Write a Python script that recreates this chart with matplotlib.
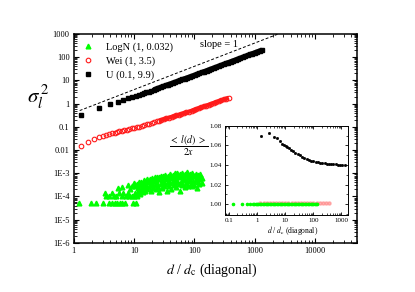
import numpy as np
import matplotlib.pyplot as plt
from matplotlib.ticker import FixedLocator, FuncFormatter, LogLocator, NullFormatter, MultipleLocator

plt.rcParams['font.family'] = 'Liberation Serif'
plt.rcParams['mathtext.fontset'] = 'stix'

# U (0.1, 9.9) - black squares
u_x = [1.33, 2.66, 3.99, 5.32, 6.65, 7.98, 9.31, 10.64, 11.97, 13.3, 14.63, 16,
       17.5, 19.2, 21.1, 23.1, 25.3, 27.8, 30.5, 33.4, 36.6, 40.1, 44, 48.3, 52.9,
       58, 63.6, 69.8, 76.5, 83.9, 92, 100.9, 110.6, 121, 133, 146, 160, 175, 192,
       211, 231, 253, 278, 305, 334, 366, 402, 440, 483, 530, 581, 637, 698, 766,
       840, 921, 1010, 1107, 1214, 1331]
u_y = [0.32, 0.63, 0.92, 1.2, 1.45, 1.7, 1.93, 2.15, 2.38, 2.6, 2.82, 3.03,
       3.30, 3.60, 3.92, 4.27, 4.65, 5.07, 5.52, 6.01, 6.55, 7.13, 7.77, 8.47, 9.22,
       10.05, 10.95, 11.93, 12.99, 14.15, 15.42, 16.8, 18.36, 20.07, 21.94, 23.98,
       26.21, 28.65, 31.31, 34.22, 37.4, 40.88, 44.68, 48.84, 53.38, 58.34, 63.77,
       69.7, 76.18, 83.26, 91.0, 99.47, 108.7, 118.8, 129.9, 142.0, 155.2, 169.6,
       185.4, 202.6]

# Wei (1, 3.5) - red open circles
w_x = [1.29, 1.72, 2.15, 2.58, 3.01, 3.44, 3.87, 4.30, 4.73, 5.16, 5.7, 6.2, 6.9,
       7.6, 8.3, 9.1, 10.0, 11.0, 12.1, 13.3, 14.6, 16.1, 17.7, 19.5, 21.4, 23.6,
       25.9, 28.5, 31.4, 34.5, 38.0, 41.8, 46, 50.5, 55.6, 61, 67, 74, 81, 90, 98,
       108, 119, 131, 144, 159, 175, 192, 211, 232, 255, 281, 309, 340, 370]
w_y = [0.015, 0.022, 0.029, 0.035, 0.040, 0.045, 0.049, 0.052, 0.056, 0.059,
       0.0634, 0.0669, 0.0717, 0.0763, 0.0807, 0.0856, 0.0909, 0.0966, 0.1027,
       0.1108, 0.1192, 0.1283, 0.1380, 0.1485, 0.1598, 0.1719, 0.1850, 0.1991,
       0.2142, 0.2305, 0.2480, 0.2669, 0.2872, 0.3090, 0.3325, 0.3578, 0.3850,
       0.4142, 0.4457, 0.490, 0.534, 0.583, 0.636, 0.693, 0.756, 0.824, 0.899,
       0.980, 1.069, 1.166, 1.272, 1.387, 1.513, 1.650, 1.78]

# LogN (1, 0.032) - green triangles, y in units of 1e-4
g_x = [1.21, 1.9, 2.35, 3.0, 3.83, 4.35, 4.82, 5.26, 5.78, 6.38, 7.0, 9.6, 10.7,
       3.37, 3.83, 4.64, 5.08, 6.38, 7.3, 8.25, 9.1,
       3.25, 4.35, 5.62, 6.63, 8.0,
       5.4, 6.4, 7.8, 8.7, 9.3,
       10.0, 10.5, 11.0, 11.5, 12.0, 12.6, 13.2, 13.8, 14.5, 15.1, 15.8, 16.6,
       17.4, 18.2, 19.1, 20.0, 20.9, 21.9, 22.9, 24.0, 25.1, 26.3, 27.5, 28.8,
       30.2, 31.6, 33.1, 34.7, 36.3, 38.0, 39.8, 41.7, 43.7, 45.7, 47.9, 50.1,
       52.5, 55.0, 57.5, 60.3, 63.1, 66.1, 69.2, 72.4, 75.9, 79.4, 83.2, 87.1,
       91.2, 95.5, 100, 105, 110, 115, 120, 126, 132,
       10.0, 10.5, 11.0, 11.5, 12.0, 12.6, 13.2, 13.8, 14.5, 15.1, 15.8, 16.6,
       17.4, 18.2, 19.1, 20.0, 20.9, 21.9, 22.9, 24.0, 25.1, 26.3, 27.5, 28.8,
       30.2, 31.6, 33.1, 34.7, 36.3, 38.0, 39.8, 41.7, 43.7, 45.7, 47.9, 50.1,
       52.5, 55.0, 57.5, 60.3, 63.1, 66.1, 69.2, 72.4, 75.9, 79.4, 83.2, 87.1,
       91.2, 95.5, 100, 105, 110, 115, 120, 126, 132]
g_y = [0.5, 0.5, 0.5, 0.5, 0.5, 0.5, 0.5, 0.5, 0.5, 0.5, 0.5, 0.5, 0.5,
       1.0, 1.0, 1.0, 1.0, 1.0, 1.0, 1.0, 1.0,
       1.35, 1.35, 1.35, 1.35, 1.35,
       2.3, 2.5, 3.2, 2.0, 2.8,
       3.8, 2.9, 3.4, 2.4, 4.0, 3.1, 4.4, 3.6, 5.0, 3.9, 4.6, 5.5,
       4.1, 5.9, 4.8, 6.3, 5.1, 6.8, 4.5, 7.2, 5.7, 6.6, 8.0, 5.3,
       7.5, 6.1, 8.6, 5.9, 7.9, 6.4, 9.2, 7.0, 8.4, 6.2, 9.8, 7.4,
       10.5, 6.8, 9.0, 7.7, 10.2, 6.5, 9.5, 8.1, 11.0, 7.2, 9.7, 6.9,
       10.0, 8.3, 7.6, 9.4, 6.6, 8.8, 7.3, 9.1, 6.3,
       1.0, 1.4, 1.0, 1.6, 1.9, 1.3, 2.2, 1.6, 2.6, 1.8, 2.9, 2.1,
       2.5, 3.2, 1.7, 3.6, 2.3, 3.0, 2.0, 3.9, 2.6, 1.6, 3.3, 2.4,
       4.2, 2.8, 3.5, 1.7, 4.4, 2.9, 3.7, 2.2, 4.6, 3.1, 4.0, 2.6,
       4.8, 3.4, 1.8, 4.3, 3.0, 4.9, 2.5, 3.8, 4.5, 2.9, 5.2, 3.6,
       2.7, 4.7, 3.2, 5.0, 2.4, 4.1, 3.3, 5.4, 3.9]

# slope = 1 guide line
ref_x = [1.25, 3000]
ref_y = [0.5, 1200]

# inset data
in_u_x = [1.33, 2.66, 3.99, 5.32, 6.65, 7.98, 9.31, 10.6, 12, 13.3, 16, 19, 23, 28,
          33, 40, 48, 58, 70, 84, 100, 120, 145, 175, 210, 250, 300, 360, 430, 520,
          620, 750, 900, 1080, 1300]
in_u_y = [1.070, 1.0725, 1.069, 1.0674, 1.065, 1.062, 1.060, 1.059, 1.058, 1.057,
          1.0555, 1.054, 1.0525, 1.051, 1.0498, 1.0485, 1.0473, 1.0462, 1.0452,
          1.0444, 1.0437, 1.0431, 1.0426, 1.0422, 1.0419, 1.0416, 1.0414, 1.0412,
          1.0410, 1.0408, 1.0407, 1.0405, 1.0404, 1.0403, 1.0402]
in_w_x = [1.3, 1.7, 2.2, 2.8, 3.6, 4.6, 6, 7.7, 10, 13, 17, 22, 28, 36, 46, 60, 77,
          100, 130, 170, 220, 280, 370]
in_w_y = [1.0014, 1.0013, 1.0015, 1.0014, 1.0013, 1.0014, 1.0015, 1.0014, 1.0013,
          1.0014, 1.0014, 1.0013, 1.0014, 1.0015, 1.0014, 1.0013, 1.0014, 1.0014,
          1.0013, 1.0014, 1.0013, 1.0014, 1.0013]
in_g_x = [0.135, 0.29, 0.44, 0.58, 0.7, 0.8, 0.9, 1.0, 1.12, 1.26, 1.41, 1.58, 1.78,
          2.0, 2.24, 2.51, 2.82, 3.16, 3.55, 3.98, 4.47, 5.01, 5.62, 6.31, 7.08,
          7.94, 8.91, 10, 11.2, 12.6, 14.1, 15.8, 17.8, 20, 22.4, 25.1, 28.2, 31.6,
          35.5, 39.8, 44.7, 50.1, 56.2, 63.1, 70.8, 79.4, 89.1, 100, 112, 126, 135]
in_g_y = [1.000, 1.000, 1.000, 1.000, 1.000, 1.000, 1.000, 1.000, 1.000, 1.000,
          1.000, 1.000, 1.000, 1.000, 1.000, 1.000, 1.000, 1.000, 1.000, 1.000,
          1.000, 1.000, 1.000, 1.000, 1.000, 1.000, 1.000, 1.000, 1.000, 1.000,
          1.000, 1.000, 1.000, 1.000, 1.000, 1.000, 1.000, 1.000, 1.000, 1.000,
          1.000, 1.000, 1.000, 1.000, 1.000, 1.000, 1.000, 1.000, 1.000, 1.000,
          1.000]

ylabels = {3: '1000', 2: '100', 1: '10', 0: '1', -1: '0.1', -2: '0.01',
           -3: '1E-3', -4: '1E-4', -5: '1E-5', -6: '1E-6'}

fig = plt.figure(figsize=(4.15, 2.92), dpi=100)
ax = fig.add_axes([0.178, 0.168, 0.682, 0.716])

ax.plot(ref_x, ref_y, color='black', linestyle='--', linewidth=0.7, dashes=(3, 2))
ax.plot(g_x, np.array(g_y) * 1e-4, linestyle='none', marker='^', markersize=3.4,
        color='#00ff00', label='LogN (1, 0.032)')
# dense part of the curves: markers overlap into a solid band
ax.plot(w_x[26:], w_y[26:], color='#ff1a1a', linewidth=3.0, solid_capstyle='butt')
ax.plot(w_x, w_y, linestyle='none', marker='o', markersize=3.3, markerfacecolor='none',
        markeredgecolor='#ff1a1a', markeredgewidth=0.8, label='Wei (1, 3.5)')
ax.plot(u_x[14:], u_y[14:], color='black', linewidth=3.6, solid_capstyle='butt')
ax.plot(u_x, u_y, linestyle='none', marker='s', markersize=2.8, color='black',
        label='U (0.1, 9.9)')

ax.set_xscale('log')
ax.set_yscale('log')
ax.set_xlim(1, 50000)
ax.set_ylim(1e-6, 1000)
ax.xaxis.set_major_locator(FixedLocator([1, 10, 100, 1000, 10000]))
ax.xaxis.set_major_formatter(FuncFormatter(lambda v, p: '%d' % round(v)))
ax.xaxis.set_minor_locator(LogLocator(base=10, subs=np.arange(2, 10)))
ax.xaxis.set_minor_formatter(NullFormatter())
ax.yaxis.set_major_locator(FixedLocator([10.0 ** k for k in range(-6, 4)]))
ax.yaxis.set_major_formatter(FuncFormatter(lambda v, p: ylabels.get(int(round(np.log10(v))), '')))
ax.yaxis.set_minor_locator(LogLocator(base=10, subs=np.arange(2, 10)))
ax.yaxis.set_minor_formatter(NullFormatter())
ax.tick_params(which='both', direction='in', top=True, right=True, labelsize=6, pad=3)
ax.tick_params(which='major', length=3.5, width=0.8)
ax.tick_params(which='minor', length=2, width=0.6)
for s in ax.spines.values():
    s.set_linewidth(1.1)

ax.legend(loc='upper left', frameon=False, fontsize=7.5, handlelength=1.0,
          handletextpad=1.2, labelspacing=0.4, borderaxespad=0.4, borderpad=0.45)
fig.text(0.482, 0.846, 'slope = 1', fontsize=7.5, va='center')
fig.text(0.092, 0.665, r'$\sigma_{l}^{\,2}$', fontsize=15, ha='center', va='center')
fig.text(0.51, 0.075, r'$d$ / $d_{\mathrm{c}}$ (diagonal)', fontsize=10, ha='center', va='center')

# inset
ins = fig.add_axes([0.542, 0.264, 0.2964, 0.3048])
ins.plot(in_w_x, in_w_y, linestyle='none', marker='o', markersize=2.2,
         color='#ff9090', alpha=0.7)
ins.plot(in_g_x, in_g_y, linestyle='none', marker='o', markersize=1.6, color='#00ff00')
ins.plot(in_u_x, in_u_y, linestyle='none', marker='s', markersize=1.0, color='black')
ins.set_xscale('log')
ins.set_xlim(0.072, 1700)
ins.set_ylim(0.989, 1.08)
ins.xaxis.set_major_locator(FixedLocator([0.1, 1, 10, 100, 1000]))
ins.xaxis.set_major_formatter(FuncFormatter(lambda v, p: '0.1' if v < 0.5 else '%d' % round(v)))
ins.xaxis.set_minor_locator(LogLocator(base=10, subs=np.arange(2, 10)))
ins.xaxis.set_minor_formatter(NullFormatter())
ins.yaxis.set_major_locator(MultipleLocator(0.02))
ins.yaxis.set_minor_locator(MultipleLocator(0.01))
ins.yaxis.set_major_formatter(FuncFormatter(lambda v, p: '%.2f' % v))
ins.tick_params(which='both', direction='in', top=True, right=True, labelsize=5, pad=2)
ins.tick_params(which='major', length=2.5, width=0.6)
ins.tick_params(which='minor', length=1.3, width=0.5)
for s in ins.spines.values():
    s.set_linewidth(0.7)
fig.text(0.706, 0.212, r'$d$ / $d_{\mathrm{c}}$ (diagonal)', fontsize=5.5, ha='center', va='center')
fig.text(0.455, 0.5, r'$\dfrac{<\ l(d)\ >}{2x}$', fontsize=7, ha='center', va='center')

fig.savefig('out.png', dpi=100)
